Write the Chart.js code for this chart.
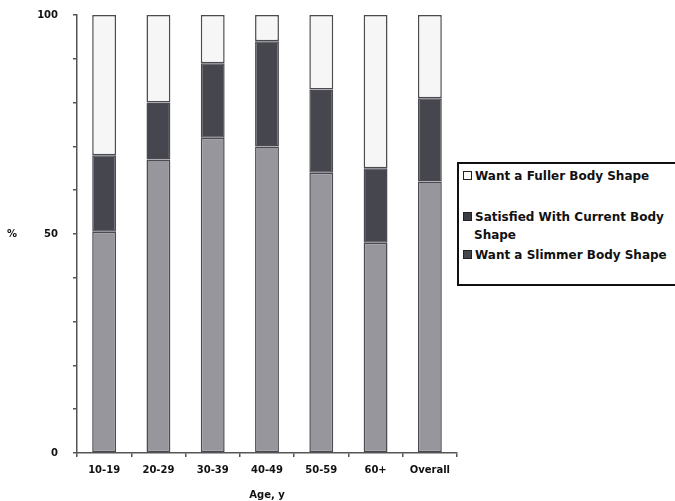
<!DOCTYPE html>
<html>
<head>
<meta charset="utf-8">
<script src="https://cdn.jsdelivr.net/npm/chart.js@4/dist/chart.umd.min.js"></script>
<style>
  html, body { margin: 0; padding: 0; background: #fff; overflow: hidden; }
  #wrap { position: relative; width: 675px; height: 501px; overflow: hidden; }
  #legend {
    position: absolute; left: 457px; top: 162px; width: 260px; height: 124px;
    border: 2px solid #111; border-right: none; background: #fff; box-sizing: border-box;
    font-family: "DejaVu Sans", sans-serif; font-weight: bold; font-size: 12px; color: #111;
  }
  .item { position: absolute; left: 4px; line-height: 18px; white-space: nowrap; }
  .sw { display: inline-block; width: 7px; height: 7px; border: 1px solid #222; margin-right: 3px; vertical-align: 0px; }
  .indent { padding-left: 11px; display: block; }
</style>
</head>
<body>
<div id="wrap">
  <canvas id="chart" width="675" height="501"></canvas>
  <div id="legend">
    <div class="item" style="top:3px"><span class="sw" style="background:#fafafa"></span>Want a Fuller Body Shape</div>
    <div class="item" style="top:44px"><span class="sw" style="background:#3c3c44"></span>Satisfied With Current Body<span class="indent">Shape</span></div>
    <div class="item" style="top:82px"><span class="sw" style="background:#46464e"></span>Want a Slimmer Body Shape</div>
  </div>
</div>
<script>
const ageGroups = ['10-19', '20-29', '30-39', '40-49', '50-59', '60+', 'Overall'];
const slimmer = [50.5, 67, 72, 70, 64, 48, 62];
const satisfied = [17.5, 13, 17, 24, 19, 17, 19];
const fuller = [32, 20, 11, 6, 17, 35, 19];
const yTicks = [0, 50, 100];

const font = { family: '"DejaVu Sans", sans-serif', weight: 'bold', size: 10 };

const percentLabel = {
  id: 'percentLabel',
  afterDraw(chart) {
    const ctx = chart.ctx;
    const y = chart.scales.y.getPixelForValue(50);
    ctx.save();
    ctx.font = 'bold 10px "DejaVu Sans", sans-serif';
    ctx.fillStyle = '#111';
    ctx.textBaseline = 'middle';
    ctx.fillText('%', 7, y);
    ctx.restore();
  }
};

function bar(label, data, color) {
  return {
    label: label,
    data: data,
    backgroundColor: color,
    borderColor: '#4a4a50',
    borderWidth: 1.5,
    borderSkipped: false,
    categoryPercentage: 1,
    barPercentage: 0.44
  };
}

new Chart(document.getElementById('chart').getContext('2d'), {
  type: 'bar',
  data: {
    labels: ageGroups,
    datasets: [
      bar('Want a Slimmer Body Shape', slimmer, '#96969c'),
      bar('Satisfied With Current Body Shape', satisfied, '#46464f'),
      bar('Want a Fuller Body Shape', fuller, '#f6f6f6')
    ]
  },
  options: {
    responsive: false,
    animation: false,
    layout: { autoPadding: false, padding: { top: 15, right: 218, left: 0, bottom: 0 } },
    plugins: { legend: { display: false }, tooltip: { enabled: false } },
    scales: {
      x: {
        stacked: true,
        afterFit: s => { s.height = 48; },
        grid: { drawOnChartArea: false, tickLength: 4, color: '#555', lineWidth: 1.5 },
        border: { color: '#555', width: 1.5 },
        ticks: { font: font, color: '#111', padding: 7, maxRotation: 0 },
        title: { display: true, text: 'Age, y', font: font, color: '#111', padding: { top: 7, bottom: 0 } }
      },
      y: {
        stacked: true,
        min: 0, max: 100,
        afterFit: s => { s.width = 77; s.paddingTop = 0; s.paddingBottom = 0; },
        grid: { drawOnChartArea: false, tickLength: 4, color: '#555', lineWidth: 1.5 },
        border: { color: '#555', width: 1.5 },
        ticks: {
          stepSize: 10, font: font, color: '#111', padding: 15,
          callback: v => yTicks.includes(v) ? v : ''
        }
      }
    }
  },
  plugins: [percentLabel]
});
</script>
</body>
</html>
